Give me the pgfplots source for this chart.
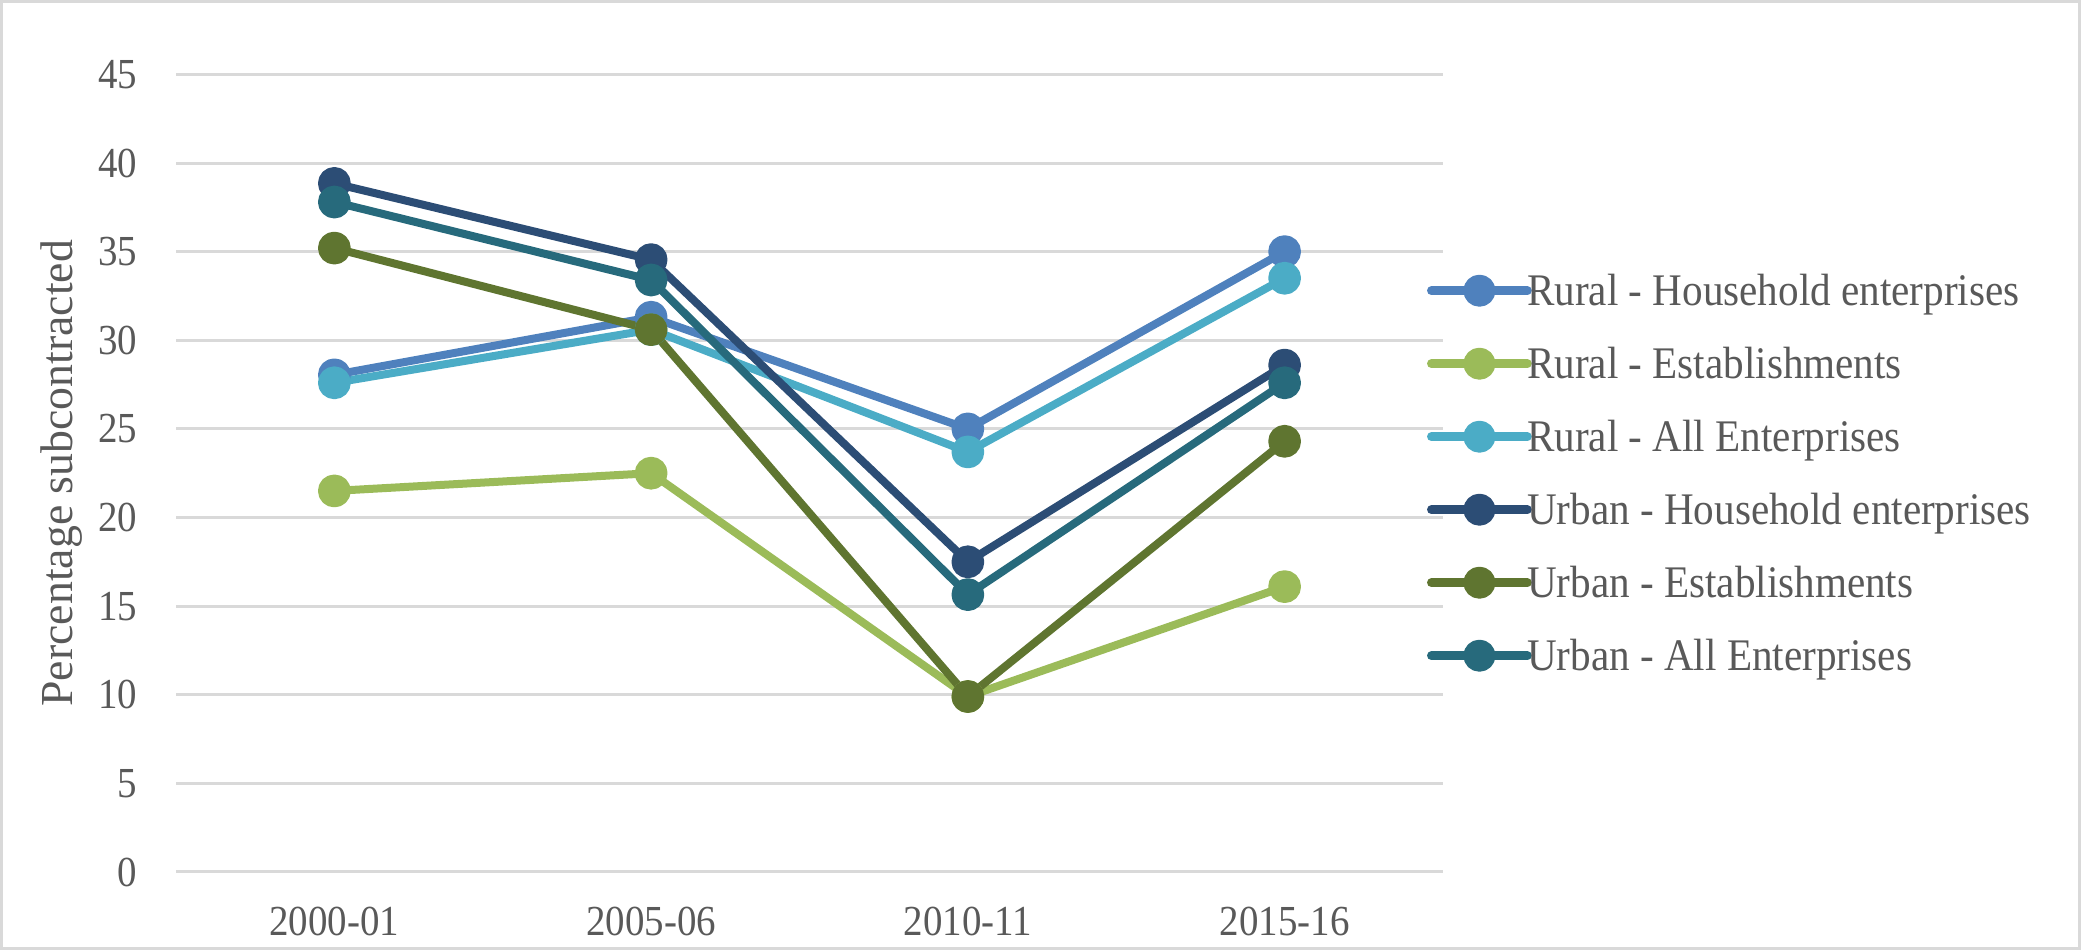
\documentclass[border=0pt]{standalone}
\usepackage{pgfplots}
\pgfplotsset{compat=1.18}
\usepackage{fontspec}
\setmainfont[FakeStretch=0.91]{Liberation Serif}
\newfontfamily\plainserif{Liberation Serif}
\definecolor{rhh}{HTML}{4F81BD}
\definecolor{res}{HTML}{9BBB59}
\definecolor{rall}{HTML}{4BACC6}
\definecolor{uhh}{HTML}{2C4D75}
\definecolor{ues}{HTML}{5F7530}
\definecolor{uall}{HTML}{276A7C}
\definecolor{gridgray}{HTML}{D9D9D9}
\definecolor{textgray}{HTML}{595959}
\begin{document}
\begin{tikzpicture}
\useasboundingbox (0,0) rectangle (520.25pt,237.5pt);
\draw[color=gridgray, line width=0.75pt] (0.375pt,0.375pt) rectangle (519.875pt,237.125pt);
\begin{axis}[
  at={(44pt,19.5pt)}, anchor=south west,
  width=316.75pt, height=199.4pt, scale only axis,
  xmin=-0.5, xmax=3.5, ymin=0, ymax=45,
  xtick={0,1,2,3}, xticklabels={2000-01,2005-06,2010-11,2015-16},
  ytick={0,5,...,45},
  axis line style={draw=none}, tick style={draw=none},
  ymajorgrids, grid style={gridgray, line width=0.75pt},
  /pgf/number format/assume math mode=true,
  ticklabel style={font=\fontsize{10.7}{12}\selectfont, text=textgray, inner sep=0pt},
  yticklabel style={anchor=east, xshift=-9.5pt},
  xticklabel style={anchor=north, yshift=-8.5pt},
  ylabel={Percentage subcontracted},
  every axis y label/.style={at={(axis description cs:-0.09,0.5)}, rotate=90, anchor=center, font=\plainserif\fontsize{11.45}{13}\selectfont, text=textgray},
  every axis plot/.append style={line width=2pt, line join=round, mark=*, mark size=3.1pt, mark options={solid}},
  legend image code/.code={
    \draw[line width=2.2pt, line cap=round, mark=none] (0pt,0pt) -- (24pt,0pt);
    \fill (12pt,0pt) circle (3pt);
  },
  legend cell align=left,
  legend style={at={(rel axis cs:0.9874,0.5)}, anchor=west, draw=none, fill=none,
    inner sep=0pt, outer sep=0pt, row sep=6.75pt, column sep=-1.15pt,
    nodes={inner sep=0pt, text height=9.5pt, text depth=2pt, text=textgray, font=\fontsize{11.3}{13}\selectfont}},
]
\addplot[color=rhh] coordinates {(0,28.05) (1,31.3) (2,25.0) (3,35.0)};
\addlegendentry{Rural - Household enterprises}
\addplot[color=res] coordinates {(0,21.5) (1,22.5) (2,9.9) (3,16.1)};
\addlegendentry{Rural - Establishments}
\addplot[color=rall] coordinates {(0,27.6) (1,30.6) (2,23.7) (3,33.5)};
\addlegendentry{Rural - All Enterprises}
\addplot[color=uhh] coordinates {(0,38.85) (1,34.55) (2,17.5) (3,28.6)};
\addlegendentry{Urban - Household enterprises}
\addplot[color=ues] coordinates {(0,35.2) (1,30.6) (2,9.9) (3,24.3)};
\addlegendentry{Urban - Establishments}
\addplot[color=uall] coordinates {(0,37.8) (1,33.4) (2,15.65) (3,27.6)};
\addlegendentry{Urban - All Enterprises}
\end{axis}
\end{tikzpicture}
\end{document}
